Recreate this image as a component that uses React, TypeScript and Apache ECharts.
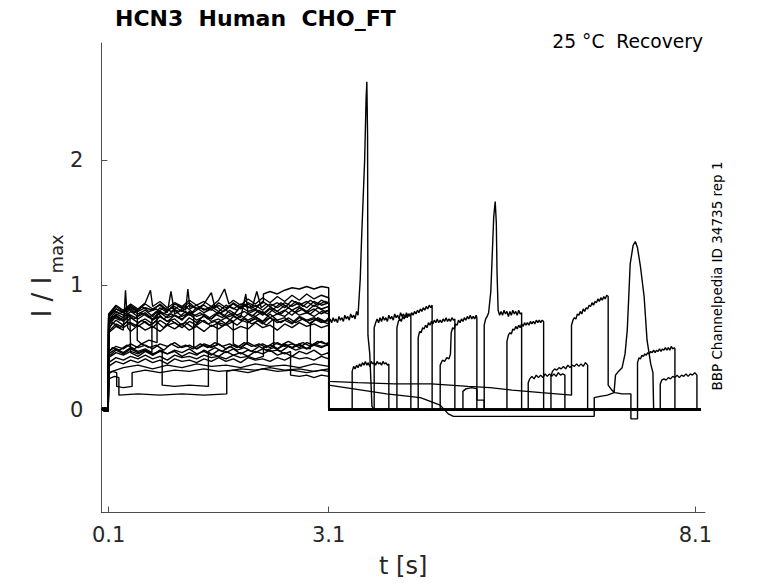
import React, { useEffect, useRef } from "react";
import * as echarts from "echarts";

// ---- axis ticks ----
const xTickValues = [0.1, 3.1, 8.1];
const yTickValues = [0, 1, 2];

// ---- text ----
const titleText = "HCN3  Human  CHO_FT";
const conditionText = "25 °C  Recovery";
const sourceText = "BBP Channelpedia ID 34735 rep 1";
const xAxisName = "t [s]";

// ---- sweeps: flat [t, I/Imax, t, I/Imax, ...] ----
const sweep01 = [0.01,0.01, 0.05,-0.01, 0.095,0.01,
  0.1,0.66, 0.2,0.72, 0.3,0.68, 0.4,0.74, 0.5,0.70, 0.6,0.73, 0.7,0.69, 0.8,0.75, 0.9,0.71, 1.0,0.73, 1.1,0.68, 1.2,0.74, 1.3,0.70, 1.4,0.76, 1.5,0.71, 1.6,0.73, 1.7,0.69, 1.8,0.75, 1.9,0.72, 2.0,0.70, 2.1,0.74, 2.2,0.71, 2.3,0.77, 2.4,0.72, 2.5,0.74, 2.6,0.70, 2.7,0.75, 2.8,0.72, 2.9,0.74, 3.0,0.71, 3.1,0.69,
  3.12,0.73, 3.14,0.70, 3.16,0.74, 3.18,0.71, 3.2,0.73, 3.22,0.70, 3.24,0.75, 3.26,0.72, 3.28,0.74, 3.3,0.71, 3.32,0.76, 3.34,0.73, 3.36,0.75, 3.38,0.72, 3.4,0.77, 3.42,0.74, 3.44,0.76, 3.46,0.73, 3.48,0.79, 3.5,0.76,
  3.53,1.05, 3.55,1.4, 3.59,2.0, 3.61,2.5, 3.62,2.63, 3.63,2.2, 3.635,0.6, 3.66,0.45, 3.69,0.03, 3.72,0.0, 8.17,0.0];
const sweep02 = [0.01,0.0, 0.05,0.02, 0.095,0.0,
  0.1,0.70, 0.2,0.76, 0.3,0.72, 0.39,0.77, 0.4,0.46, 0.5,0.43, 0.6,0.47, 0.7,0.44, 0.8,0.48, 0.9,0.45, 1.0,0.47, 1.1,0.43, 1.2,0.46, 1.3,0.44, 1.4,0.48, 1.5,0.45, 1.6,0.43, 1.7,0.47, 1.8,0.44, 1.9,0.46, 2.0,0.43, 2.1,0.47, 2.2,0.45, 2.3,0.48, 2.4,0.44, 2.5,0.46, 2.6,0.43, 2.7,0.47, 2.8,0.45, 2.9,0.48, 3.0,0.44, 3.1,0.46,
  3.1,0.01, 3.42,0.0, 3.42,0.31, 3.44,0.35, 3.46,0.33, 3.48,0.36, 3.5,0.34, 3.52,0.37, 3.54,0.35, 3.56,0.38, 3.58,0.36, 3.6,0.39, 3.62,0.36, 3.64,0.38, 3.66,0.35, 3.68,0.39, 3.7,0.37, 3.72,0.38, 3.74,0.36, 3.76,0.39, 3.78,0.37, 3.8,0.38, 3.82,0.36, 3.84,0.39, 3.86,0.37, 3.88,0.38, 3.9,0.36, 3.92,0.37, 3.92,0.0, 8.17,0.01];
const sweep03 = [0.01,0.02, 0.05,0.0, 0.095,0.02,
  0.1,0.72, 0.2,0.79, 0.3,0.76, 0.4,0.81, 0.5,0.77, 0.6,0.80, 0.7,0.75, 0.8,0.82, 0.9,0.78, 0.95,0.95, 1.0,0.77, 1.1,0.80, 1.2,0.76, 1.3,0.82, 1.4,0.78, 1.5,0.81, 1.6,0.77, 1.7,0.80, 1.8,0.76, 1.9,0.83, 2.0,0.79, 2.1,0.81, 2.2,0.77, 2.3,0.82, 2.4,0.79, 2.5,0.84, 2.6,0.80, 2.7,0.83, 2.8,0.79, 2.9,0.84, 3.0,0.81, 3.1,0.83,
  3.1,0.0, 3.72,0.01, 3.72,0.66, 3.74,0.70, 3.76,0.73, 3.78,0.70, 3.8,0.74, 3.82,0.71, 3.84,0.75, 3.86,0.72, 3.88,0.74, 3.9,0.71, 3.92,0.76, 3.94,0.73, 3.96,0.75, 3.98,0.72, 4.0,0.77, 4.02,0.74, 4.04,0.76, 4.06,0.73, 4.08,0.78, 4.1,0.75, 4.12,0.77, 4.14,0.74, 4.16,0.78, 4.18,0.75, 4.2,0.77, 4.22,0.76, 4.22,0.0, 8.17,0.0];
const sweep04 = [0.01,0.0, 0.05,0.01, 0.095,-0.01,
  0.1,0.74, 0.2,0.81, 0.3,0.78, 0.4,0.83, 0.5,0.79, 0.6,0.82, 0.7,0.80, 0.8,0.85, 0.9,0.80, 1.0,0.83, 1.1,0.79, 1.2,0.84, 1.3,0.81, 1.4,0.85, 1.5,0.94, 1.55,0.82, 1.6,0.84, 1.7,0.80, 1.8,0.86, 1.9,0.82, 2.0,0.85, 2.1,0.81, 2.2,0.87, 2.3,0.83, 2.4,0.86, 2.5,0.82, 2.6,0.88, 2.7,0.84, 2.8,0.87, 2.9,0.83, 3.0,0.88, 3.1,0.85,
  3.1,0.01, 4.03,0.0, 4.03,0.66, 4.05,0.71, 4.07,0.73, 4.09,0.71, 4.11,0.75, 4.13,0.73, 4.15,0.76, 4.17,0.74, 4.19,0.77, 4.21,0.75, 4.23,0.78, 4.25,0.76, 4.27,0.79, 4.29,0.77, 4.31,0.80, 4.33,0.78, 4.35,0.81, 4.37,0.79, 4.39,0.82, 4.41,0.80, 4.43,0.83, 4.45,0.81, 4.47,0.84, 4.49,0.82, 4.51,0.84, 4.51,0.01, 8.17,0.0];
const sweep05 = [0.01,0.01, 0.05,0.0, 0.095,0.02,
  0.1,0.45, 0.2,0.49, 0.3,0.46, 0.4,0.50, 0.5,0.47, 0.6,0.49, 0.69,0.46, 0.69,0.72, 0.8,0.75, 0.9,0.71, 1.0,0.76, 1.1,0.73, 1.2,0.77, 1.3,0.72, 1.4,0.75, 1.5,0.73, 1.6,0.78, 1.7,0.74, 1.8,0.76, 1.9,0.72, 2.0,0.77, 2.1,0.75, 2.2,0.79, 2.3,0.74, 2.4,0.77, 2.5,0.75, 2.6,0.80, 2.7,0.76, 2.8,0.78, 2.9,0.75, 3.0,0.79, 3.1,0.77,
  3.1,0.0, 4.32,0.01, 4.32,0.58, 4.34,0.63, 4.36,0.62, 4.38,0.66, 4.4,0.65, 4.42,0.68, 4.44,0.66, 4.46,0.70, 4.48,0.68, 4.5,0.71, 4.52,0.69, 4.54,0.72, 4.56,0.70, 4.58,0.73, 4.6,0.70, 4.62,0.72, 4.64,0.70, 4.66,0.73, 4.68,0.71, 4.7,0.74, 4.72,0.71, 4.74,0.73, 4.76,0.71, 4.78,0.74, 4.8,0.72, 4.82,0.73, 4.82,0.0, 8.17,0.01];
const sweep06 = [0.01,0.0, 0.05,0.02, 0.095,0.0,
  0.1,0.70, 0.2,0.77, 0.3,0.74, 0.4,0.79, 0.5,0.75, 0.6,0.78, 0.7,0.73, 0.8,0.79, 0.9,0.76, 1.0,0.80, 1.1,0.75, 1.2,0.78, 1.26,0.76, 1.26,0.51, 1.3,0.49, 1.4,0.52, 1.5,0.50, 1.6,0.53, 1.7,0.49, 1.8,0.52, 1.9,0.50, 2.0,0.54, 2.1,0.51, 2.2,0.53, 2.3,0.50, 2.4,0.54, 2.5,0.51, 2.6,0.53, 2.7,0.50, 2.8,0.54, 2.9,0.52, 3.0,0.55, 3.1,0.52,
  3.1,0.0, 4.62,0.0, 4.62,0.36, 4.65,0.40, 4.68,0.39, 4.71,0.42, 4.74,0.41, 4.76,0.45, 4.77,0.62, 4.79,0.66, 4.81,0.65, 4.83,0.69, 4.85,0.68, 4.87,0.72, 4.89,0.70, 4.91,0.73, 4.93,0.71, 4.95,0.74, 4.97,0.72, 4.99,0.75, 5.01,0.73, 5.03,0.76, 5.05,0.73, 5.07,0.75, 5.09,0.73, 5.11,0.76, 5.12,0.74, 5.12,0.0, 8.17,0.0];
const sweep07 = [0.01,0.02, 0.05,-0.01, 0.095,0.01,
  0.1,0.68, 0.2,0.75, 0.3,0.71, 0.4,0.76, 0.5,0.73, 0.6,0.77, 0.7,0.72, 0.8,0.78, 0.9,0.74, 1.0,0.76, 1.1,0.72, 1.2,0.79, 1.3,0.75, 1.4,0.77, 1.5,0.73, 1.6,0.79, 1.7,0.75, 1.8,0.78, 1.9,0.74, 1.97,0.93, 2.0,0.77, 2.1,0.80, 2.2,0.76, 2.3,0.81, 2.4,0.77, 2.5,0.80, 2.6,0.76, 2.7,0.82, 2.8,0.78, 2.9,0.81, 3.0,0.77, 3.1,0.80,
  3.1,0.01, 5.22,0.0, 5.22,0.68, 5.24,0.73, 5.26,0.75, 5.28,0.78, 5.31,0.95, 5.33,1.25, 5.35,1.55, 5.37,1.67, 5.385,1.5, 5.395,1.1, 5.41,0.80, 5.43,0.76, 5.45,0.79, 5.47,0.76, 5.49,0.80, 5.51,0.77, 5.53,0.79, 5.55,0.75, 5.57,0.79, 5.59,0.76, 5.61,0.80, 5.63,0.77, 5.65,0.79, 5.67,0.76, 5.69,0.80, 5.71,0.77, 5.73,0.78, 5.73,0.01, 8.17,0.0];
const sweep08 = [0.01,0.0, 0.05,0.01, 0.095,0.0,
  0.1,0.63, 0.2,0.69, 0.3,0.66, 0.4,0.70, 0.5,0.67, 0.6,0.71, 0.7,0.66, 0.8,0.72, 0.9,0.68, 1.0,0.70, 1.1,0.66, 1.2,0.71, 1.3,0.68, 1.4,0.72, 1.5,0.67, 1.6,0.70, 1.7,0.68, 1.8,0.71, 1.8,0.53, 1.9,0.50, 1.99,0.54, 1.99,0.70, 2.1,0.73, 2.2,0.69, 2.3,0.74, 2.4,0.70, 2.5,0.72, 2.6,0.69, 2.7,0.74, 2.8,0.71, 2.9,0.73, 3.0,0.70, 3.1,0.72,
  3.1,0.0, 5.53,0.01, 5.53,0.55, 5.55,0.60, 5.57,0.62, 5.59,0.61, 5.61,0.65, 5.63,0.64, 5.65,0.67, 5.67,0.65, 5.69,0.68, 5.71,0.66, 5.73,0.69, 5.75,0.67, 5.77,0.70, 5.79,0.68, 5.81,0.70, 5.83,0.68, 5.85,0.71, 5.87,0.69, 5.89,0.71, 5.91,0.69, 5.93,0.72, 5.95,0.70, 5.97,0.72, 5.99,0.70, 6.01,0.72, 6.03,0.71, 6.03,0.0, 8.17,0.0];
const sweep09 = [0.01,0.01, 0.05,0.0, 0.095,0.01,
  0.1,0.30, 0.3,0.34, 0.5,0.36, 0.7,0.33, 0.9,0.36, 1.1,0.34, 1.3,0.37, 1.5,0.35, 1.7,0.36, 1.9,0.34, 2.1,0.37, 2.3,0.35, 2.5,0.36, 2.7,0.34, 2.9,0.37, 3.1,0.35,
  3.1,0.0, 5.82,0.0, 5.82,0.22, 5.84,0.25, 5.87,0.27, 5.9,0.25, 5.93,0.28, 5.96,0.26, 5.99,0.28, 6.02,0.26, 6.05,0.29, 6.08,0.27, 6.11,0.29, 6.14,0.27, 6.17,0.29, 6.2,0.27, 6.23,0.30, 6.26,0.28, 6.29,0.29, 6.32,0.28, 6.32,0.0, 8.17,0.01];
const sweep10 = [0.01,0.0, 0.05,0.01, 0.095,0.0,
  0.1,0.38, 0.2,0.42, 0.3,0.40, 0.4,0.43, 0.5,0.41, 0.6,0.44, 0.7,0.41, 0.8,0.43, 0.9,0.40, 1.0,0.44, 1.1,0.42, 1.2,0.43, 1.3,0.41, 1.4,0.44, 1.5,0.42, 1.6,0.43, 1.7,0.41, 1.8,0.44, 1.9,0.42, 2.0,0.43, 2.1,0.41, 2.21,0.43, 2.21,0.50, 2.3,0.52, 2.4,0.49, 2.5,0.53, 2.6,0.50, 2.7,0.52, 2.8,0.49, 2.9,0.53, 3.0,0.51, 3.1,0.52,
  3.1,0.01, 6.13,0.0, 6.13,0.27, 6.15,0.31, 6.18,0.33, 6.21,0.32, 6.24,0.34, 6.27,0.33, 6.3,0.35, 6.33,0.33, 6.36,0.36, 6.39,0.34, 6.42,0.36, 6.45,0.35, 6.48,0.37, 6.51,0.35, 6.54,0.37, 6.57,0.35, 6.6,0.38, 6.63,0.36, 6.63,0.0, 8.17,0.0];
const sweep11 = [0.01,0.02, 0.05,0.0, 0.095,0.01,
  0.1,0.76, 0.2,0.83, 0.3,0.79, 0.4,0.84, 0.5,0.80, 0.6,0.85, 0.7,0.81, 0.8,0.84, 0.9,0.79, 1.0,0.85, 1.1,0.82, 1.2,0.86, 1.3,0.81, 1.4,0.84, 1.5,0.80, 1.6,0.86, 1.7,0.82, 1.8,0.85, 1.9,0.81, 2.0,0.86, 2.1,0.83, 2.21,0.86, 2.21,0.93, 2.3,0.95, 2.4,0.93, 2.5,0.96, 2.6,0.98, 2.7,0.97, 2.8,0.99, 2.9,0.97, 3.0,0.99, 3.1,0.98,
  3.1,0.23, 3.5,0.22, 4.0,0.21, 4.5,0.21, 5.0,0.19, 5.3,0.18, 5.6,0.16, 6.0,0.14, 6.41,0.12,
  6.41,0.68, 6.43,0.72, 6.45,0.74, 6.47,0.73, 6.49,0.77, 6.51,0.76, 6.53,0.79, 6.55,0.77, 6.57,0.81, 6.59,0.79, 6.61,0.82, 6.63,0.81, 6.65,0.84, 6.67,0.83, 6.69,0.86, 6.71,0.84, 6.73,0.87, 6.75,0.86, 6.77,0.89, 6.79,0.87, 6.81,0.90, 6.83,0.88, 6.85,0.91, 6.87,0.89, 6.89,0.92, 6.91,0.91,
  6.91,0.20, 6.96,0.16, 7.0,0.14, 7.1,0.13, 7.22,0.13, 7.22,-0.07, 7.31,-0.07, 7.31,0.0, 8.17,0.0];
const sweep12 = [0.01,0.0, 0.05,0.02, 0.095,-0.01,
  0.1,0.47, 0.2,0.51, 0.3,0.49, 0.4,0.53, 0.5,0.50, 0.6,0.52, 0.7,0.49, 0.8,0.53, 0.9,0.51, 1.0,0.54, 1.1,0.50, 1.2,0.52, 1.3,0.49, 1.4,0.53, 1.5,0.51, 1.58,0.52, 1.58,0.70, 1.7,0.74, 1.8,0.71, 1.9,0.76, 2.0,0.72, 2.1,0.75, 2.2,0.71, 2.3,0.74, 2.35,0.72, 2.35,0.51, 2.4,0.49, 2.5,0.52, 2.6,0.50, 2.7,0.53, 2.8,0.49, 2.9,0.52, 3.0,0.50, 3.1,0.53,
  3.1,0.0, 7.31,0.01, 7.31,0.38, 7.33,0.42, 7.35,0.41, 7.37,0.44, 7.39,0.43, 7.41,0.45, 7.43,0.44, 7.45,0.46, 7.47,0.45, 7.49,0.47, 7.51,0.46, 7.53,0.48, 7.55,0.46, 7.57,0.48, 7.59,0.47, 7.61,0.49, 7.63,0.47, 7.65,0.49, 7.67,0.48, 7.69,0.50, 7.71,0.48, 7.73,0.50, 7.75,0.48, 7.77,0.51, 7.79,0.49, 7.81,0.50, 7.82,0.49, 7.82,0.01, 8.17,0.0];
const sweep13 = [0.01,0.01, 0.05,0.0, 0.095,0.02,
  0.1,0.29, 0.15,0.31, 0.21,0.30, 0.21,0.19, 0.3,0.18, 0.42,0.19, 0.42,0.30, 0.6,0.32, 0.8,0.30, 1.0,0.32, 1.2,0.31, 1.4,0.33, 1.6,0.31, 1.8,0.32, 2.0,0.30, 2.2,0.33, 2.4,0.31, 2.6,0.32, 2.8,0.30, 3.0,0.32, 3.1,0.31,
  3.1,0.0, 7.62,0.0, 7.62,0.21, 7.64,0.24, 7.67,0.25, 7.7,0.24, 7.73,0.26, 7.76,0.25, 7.79,0.27, 7.82,0.26, 7.85,0.28, 7.88,0.26, 7.91,0.28, 7.94,0.27, 7.97,0.29, 8.0,0.27, 8.03,0.29, 8.06,0.28, 8.09,0.30, 8.12,0.28, 8.12,0.0, 8.17,0.0];
const sweep14 = [0.01,0.0, 0.05,0.01, 0.095,0.0,
  0.1,0.42, 0.2,0.46, 0.3,0.44, 0.4,0.47, 0.5,0.45, 0.6,0.48, 0.7,0.44, 0.8,0.47, 0.9,0.45, 1.0,0.48, 1.1,0.46, 1.2,0.49, 1.3,0.45, 1.4,0.47, 1.5,0.44, 1.6,0.48, 1.7,0.46, 1.8,0.49, 1.9,0.45, 2.0,0.48, 2.1,0.46, 2.2,0.49, 2.3,0.47, 2.4,0.48, 2.5,0.45, 2.58,0.47, 2.58,0.28, 2.7,0.27, 2.8,0.28, 2.9,0.26, 3.0,0.28, 3.1,0.27,
  3.1,0.20, 3.44,0.17, 3.89,0.13, 4.35,0.10, 4.62,0.04, 4.73,-0.03, 4.8,-0.05, 5.5,-0.05, 6.2,-0.05, 6.72,-0.05, 6.72,0.10, 6.8,0.11, 6.9,0.12, 6.99,0.14, 7.01,0.28, 7.05,0.31, 7.1,0.34, 7.14,0.45, 7.17,0.64, 7.19,0.9, 7.21,1.17, 7.25,1.32, 7.28,1.35, 7.31,1.30, 7.35,1.15, 7.4,0.91, 7.44,0.56, 7.49,0.37, 7.52,0.30, 7.53,0.0, 8.17,0.0];
const sweep15 = [0.01,0.01, 0.05,-0.01, 0.095,0.0,
  0.1,0.25, 0.18,0.27, 0.24,0.26, 0.24,0.12, 0.5,0.13, 0.8,0.12, 1.1,0.13, 1.4,0.12, 1.71,0.13, 1.71,0.31, 1.9,0.33, 2.1,0.32, 2.3,0.34, 2.5,0.32, 2.7,0.33, 2.9,0.31, 3.1,0.33,
  3.1,0.0, 4.93,0.0, 4.93,0.15, 4.97,0.17, 5.05,0.18, 5.12,0.17, 5.12,0.08, 5.22,0.08, 5.22,0.0, 8.17,0.01];
const sweep16 = [0.01,0.0, 0.05,0.02, 0.095,0.01,
  0.1,0.62, 0.2,0.67, 0.3,0.64, 0.33,0.96, 0.36,0.66, 0.4,0.63, 0.5,0.68, 0.6,0.64, 0.7,0.67, 0.8,0.63, 0.9,0.68, 1.0,0.65, 1.1,0.69, 1.2,0.64, 1.3,0.67, 1.4,0.63, 1.5,0.68, 1.6,0.65, 1.7,0.69, 1.8,0.64, 1.9,0.67, 2.0,0.65, 2.1,0.70, 2.2,0.66, 2.3,0.68, 2.4,0.64, 2.5,0.69, 2.6,0.66, 2.7,0.70, 2.8,0.67, 2.9,0.69, 3.0,0.66, 3.1,0.68,
  3.1,0.0, 8.17,0.01];
const sweep17 = [0.01,0.01, 0.05,0.0, 0.095,0.0,
  0.1,0.75, 0.2,0.81, 0.3,0.78, 0.4,0.82, 0.49,0.79, 0.49,0.56, 0.55,0.53, 0.65,0.56, 0.76,0.54, 0.76,0.78, 0.85,0.82, 0.95,0.79, 1.05,0.83, 1.15,0.80, 1.18,0.97, 1.21,0.81, 1.3,0.84, 1.4,0.80, 1.5,0.83, 1.6,0.79, 1.7,0.84, 1.8,0.81, 1.9,0.85, 2.0,0.82, 2.1,0.84, 2.2,0.80, 2.3,0.85, 2.4,0.82, 2.5,0.86, 2.6,0.83, 2.7,0.86, 2.8,0.82, 2.9,0.87, 3.0,0.84, 3.1,0.86,
  3.1,0.01, 8.17,0.0];
const sweep18 = [0.01,0.0, 0.05,-0.01, 0.095,0.01,
  0.1,0.43, 0.2,0.48, 0.3,0.45, 0.4,0.49, 0.5,0.46, 0.6,0.48, 0.7,0.45, 0.83,0.48, 0.83,0.20, 1.0,0.19, 1.2,0.20, 1.46,0.19, 1.46,0.47, 1.55,0.50, 1.65,0.47, 1.75,0.51, 1.85,0.48, 1.95,0.50, 2.05,0.47, 2.15,0.51, 2.25,0.48, 2.35,0.50, 2.45,0.47, 2.55,0.51, 2.65,0.48, 2.75,0.50, 2.85,0.49, 2.85,0.70, 2.95,0.73, 3.05,0.71, 3.1,0.74,
  3.1,0.0, 8.17,0.0];
const sweep19 = [0.01,0.02, 0.05,0.01, 0.095,0.0,
  0.1,0.77, 0.2,0.84, 0.3,0.80, 0.4,0.85, 0.5,0.81, 0.6,0.86, 0.67,0.96, 0.7,0.83, 0.8,0.87, 0.9,0.82, 1.0,0.86, 1.1,0.83, 1.2,0.88, 1.3,0.84, 1.4,0.87, 1.5,0.83, 1.6,0.88, 1.68,0.97, 1.74,0.85, 1.8,0.88, 1.9,0.84, 2.0,0.89, 2.1,0.85, 2.2,0.90, 2.3,0.86, 2.4,0.91, 2.5,0.87, 2.6,0.92, 2.7,0.88, 2.8,0.93, 2.9,0.89, 3.0,0.92, 3.1,0.90,
  3.1,0.0, 8.17,0.0];
const sweep20 = [0.01,0.01, 0.05,0.0, 0.095,-0.01,
  0.1,0.35, 0.2,0.39, 0.3,0.37, 0.4,0.40, 0.5,0.38, 0.6,0.41, 0.7,0.38, 0.8,0.40, 0.9,0.37, 1.0,0.41, 1.1,0.39, 1.2,0.40, 1.3,0.38, 1.4,0.41, 1.5,0.39, 1.6,0.42, 1.7,0.39, 1.8,0.41, 1.9,0.38, 2.0,0.42, 2.1,0.40, 2.2,0.41, 2.3,0.39, 2.4,0.42, 2.5,0.40, 2.6,0.43, 2.7,0.41, 2.8,0.42, 2.9,0.40, 3.0,0.43, 3.1,0.41,
  3.1,0.01, 8.17,0.0];
const sweep21 = [0.01,0.0, 0.05,0.01, 0.095,0.02,
  0.1,0.70, 0.15,0.75, 0.25,0.72, 0.35,0.77, 0.45,0.73, 0.55,0.78, 0.65,0.74, 0.75,0.79, 0.85,0.73, 0.95,0.77, 1.05,0.74, 1.15,0.79, 1.25,0.75, 1.35,0.78, 1.45,0.73, 1.55,0.77, 1.65,0.74, 1.75,0.80, 1.85,0.76, 1.95,0.79, 2.05,0.75, 2.15,0.80, 2.25,0.76, 2.35,0.81, 2.45,0.77, 2.55,0.82, 2.65,0.78, 2.75,0.81, 2.85,0.77, 2.95,0.82, 3.05,0.79, 3.1,0.80,
  3.1,0.0, 8.17,0.01];
const sweep22 = [0.01,0.01, 0.05,0.0, 0.095,0.0,
  0.1,0.64, 0.15,0.70, 0.25,0.66, 0.35,0.71, 0.45,0.67, 0.55,0.72, 0.65,0.68, 0.75,0.71, 0.85,0.66, 0.95,0.72, 1.05,0.68, 1.15,0.70, 1.25,0.66, 1.35,0.72, 1.45,0.69, 1.55,0.71, 1.65,0.67, 1.75,0.72, 1.85,0.68, 1.95,0.73, 2.05,0.69, 2.15,0.72, 2.25,0.68, 2.35,0.73, 2.45,0.70, 2.55,0.74, 2.65,0.70, 2.75,0.73, 2.85,0.69, 2.95,0.74, 3.05,0.71, 3.1,0.72,
  3.1,0.01, 8.17,0.0];
const sweep23 = [0.01,0.0, 0.05,0.0, 0.095,0.01,
  0.1,0.74, 0.15,0.80, 0.25,0.77, 0.35,0.82, 0.45,0.78, 0.55,0.83, 0.65,0.79, 0.75,0.81, 0.85,0.77, 0.95,0.82, 1.05,0.79, 1.15,0.83, 1.25,0.78, 1.35,0.82, 1.45,0.80, 1.55,0.84, 1.65,0.79, 1.75,0.83, 1.85,0.80, 1.95,0.85, 2.05,0.81, 2.12,0.95, 2.18,0.82, 2.25,0.85, 2.35,0.81, 2.45,0.86, 2.55,0.82, 2.65,0.87, 2.75,0.83, 2.85,0.88, 2.95,0.84, 3.05,0.87, 3.1,0.86,
  3.1,0.0, 8.17,0.0];
const sweep24 = [0.01,0.01, 0.05,-0.01, 0.095,0.0,
  0.1,0.46, 0.15,0.50, 0.25,0.48, 0.35,0.52, 0.45,0.49, 0.55,0.53, 0.65,0.50, 0.75,0.52, 0.85,0.48, 0.95,0.53, 1.05,0.50, 1.15,0.52, 1.25,0.49, 1.35,0.53, 1.45,0.50, 1.55,0.54, 1.65,0.51, 1.75,0.53, 1.85,0.50, 1.95,0.54, 2.05,0.51, 2.15,0.53, 2.25,0.50, 2.35,0.54, 2.45,0.52, 2.55,0.55, 2.65,0.52, 2.75,0.54, 2.85,0.51, 2.95,0.55, 3.05,0.53, 3.1,0.54,
  3.1,0.0, 8.17,0.0];

const sweeps = [sweep01, sweep02, sweep03, sweep04, sweep05, sweep06, sweep07, sweep08, sweep09, sweep10,
  sweep11, sweep12, sweep13, sweep14, sweep15, sweep16, sweep17, sweep18, sweep19, sweep20,
  sweep21, sweep22, sweep23, sweep24];

function toPairs(flat: number[]): number[][] {
  const out: number[][] = [];
  for (let i = 0; i + 1 < flat.length; i += 2) out.push([flat[i], flat[i + 1]]);
  return out;
}

const FONT = "DejaVu Sans";
const AXIS_COLOR = "#4d4d4d";
const TEXT_COLOR = "#262626";

export default function App() {
  const ref = useRef<HTMLDivElement>(null);
  useEffect(() => {
    if (!ref.current) return;
    const chart = echarts.init(ref.current, null, { renderer: "svg" });
    chart.setOption({
      animation: false,
      backgroundColor: "#ffffff",
      grid: { left: 101.3, right: 73, top: 43, bottom: 70.5, containLabel: false },
      xAxis: {
        type: "value",
        min: 0,
        max: 8.23,
        name: xAxisName,
        nameLocation: "middle",
        nameGap: 41,
        nameTextStyle: { fontFamily: FONT, fontSize: 24, color: TEXT_COLOR },
        axisLine: { show: true, onZero: false, lineStyle: { color: AXIS_COLOR, width: 1 } },
        axisTick: { show: true, inside: true, length: 6, customValues: xTickValues, lineStyle: { color: AXIS_COLOR, width: 1 } },
        axisLabel: {
          show: true,
          customValues: xTickValues,
          margin: 12,
          fontFamily: FONT,
          fontSize: 21,
          color: TEXT_COLOR,
          formatter: (v: number) => v.toFixed(1),
        },
        splitLine: { show: false },
      },
      yAxis: {
        type: "value",
        min: -0.82,
        max: 2.94,
        axisLine: { show: true, onZero: false, lineStyle: { color: AXIS_COLOR, width: 1 } },
        axisTick: { show: true, inside: true, length: 6, customValues: yTickValues, lineStyle: { color: AXIS_COLOR, width: 1 } },
        axisLabel: {
          show: true,
          customValues: yTickValues,
          margin: 18,
          fontFamily: FONT,
          fontSize: 21,
          color: TEXT_COLOR,
          formatter: (v: number) => String(Math.round(v)),
        },
        splitLine: { show: false },
      },
      graphic: [
        {
          type: "text",
          x: 115,
          y: 18,
          style: { text: titleText, fontFamily: FONT, fontSize: 22, fontWeight: "bold", fill: "#000", textAlign: "left", textVerticalAlign: "middle" },
        },
        {
          type: "text",
          x: 703,
          y: 41,
          style: { text: conditionText, fontFamily: FONT, fontSize: 18.7, fill: "#000", textAlign: "right", textVerticalAlign: "middle" },
        },
        {
          type: "text",
          x: 717,
          y: 276,
          rotation: Math.PI / 2,
          style: { text: sourceText, fontFamily: FONT, fontSize: 13.5, fill: "#000", textAlign: "center", textVerticalAlign: "middle" },
        },
        {
          type: "text",
          x: 42,
          y: 297,
          rotation: Math.PI / 2,
          style: { text: "I / I", fontFamily: FONT, fontSize: 26, fill: TEXT_COLOR, textAlign: "center", textVerticalAlign: "middle" },
        },
        {
          type: "text",
          x: 56,
          y: 254,
          rotation: Math.PI / 2,
          style: { text: "max", fontFamily: FONT, fontSize: 18, fill: TEXT_COLOR, textAlign: "center", textVerticalAlign: "middle" },
        },
      ],
      series: sweeps.map((s, i) => ({
        name: "sweep" + (i + 1),
        type: "line",
        data: toPairs(s),
        showSymbol: false,
        symbol: "none",
        silent: true,
        clip: true,
        lineStyle: { color: "#000000", width: 1.4 },
        emphasis: { disabled: true },
      })),
    });
    return () => chart.dispose();
  }, []);
  return <div ref={ref} style={{ position: "fixed", left: 0, top: 0, width: 778, height: 583 }} />;
}
